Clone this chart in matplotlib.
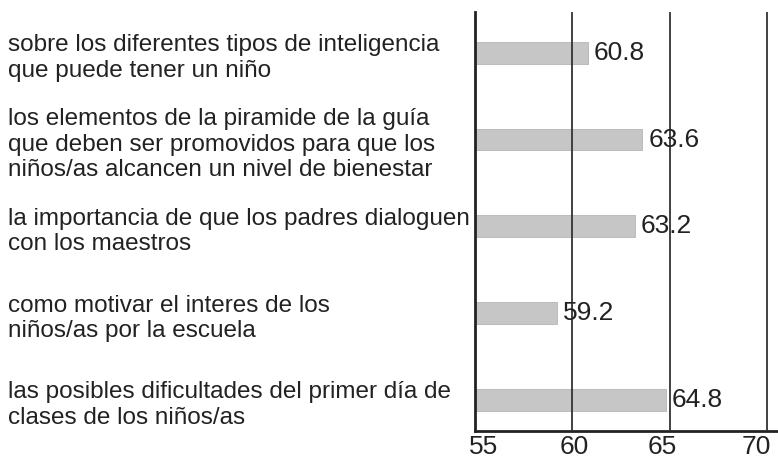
import matplotlib
matplotlib.use("Agg")
import matplotlib.pyplot as plt
import matplotlib.transforms as mtransforms

categories = [
    "sobre los diferentes tipos de inteligencia\nque puede tener un niño",
    "los elementos de la piramide de la guía\nque deben ser promovidos para que los\nniños/as alcancen un nivel de bienestar",
    "la importancia de que los padres dialoguen\ncon los maestros",
    "como motivar el interes de los\nniños/as por la escuela",
    "las posibles dificultades del primer día de\nclases de los niños/as",
]
values = [60.8, 63.6, 63.2, 59.2, 64.8]
value_labels = ["60.8", "63.6", "63.2", "59.2", "64.8"]
xticks = [55, 60, 65, 70]

plt.rcParams['font.family'] = ['Liberation Sans', 'DejaVu Sans']

fig = plt.figure(figsize=(7.78, 4.62), dpi=100)
ax = fig.add_axes([475/778, 1 - 431/462, (778 - 475)/778, (431 - 12)/462])

ypos = list(range(len(categories)))
base = 55
ax.barh(ypos, [v - base for v in values], left=base, height=0.25,
        color='#c6c6c6', edgecolor='#b5b5b5', linewidth=0.6, zorder=2)

ax.set_xlim(55, 70.56)
ax.set_ylim(4.36, -0.47)

for x in [60, 65, 70]:
    ax.axvline(x, color='#333333', linewidth=1.3, zorder=3)

for y, v, lab in zip(ypos, values, value_labels):
    ax.text(v + 0.3, y, lab, va='center', ha='left', fontsize=19, color='#222222', zorder=4)

ax.set_xticks(xticks)
ax.set_xticklabels([str(t) for t in xticks], fontsize=19, color='#222222')
ax.tick_params(axis='x', length=0, pad=3)
ax.set_yticks([])
label_shift_px = [9, 2, -7, -11]
for lbl, dx in zip(ax.get_xticklabels(), label_shift_px):
    lbl.set_transform(lbl.get_transform() + mtransforms.ScaledTranslation(dx / 100, 0, fig.dpi_scale_trans))

for s in ['top', 'right']:
    ax.spines[s].set_visible(False)
ax.spines['left'].set_linewidth(2)
ax.spines['bottom'].set_linewidth(2)
ax.spines['left'].set_color('#222222')
ax.spines['bottom'].set_color('#222222')

trans = mtransforms.blended_transform_factory(fig.transFigure, ax.transData)
for y, cat in zip(ypos, categories):
    fig.text(8/778, y + 0.06, cat, transform=trans, ha='left', va='center',
             fontsize=17.5, color='#222222', linespacing=1.2)

fig.savefig("out.png", dpi=100)
